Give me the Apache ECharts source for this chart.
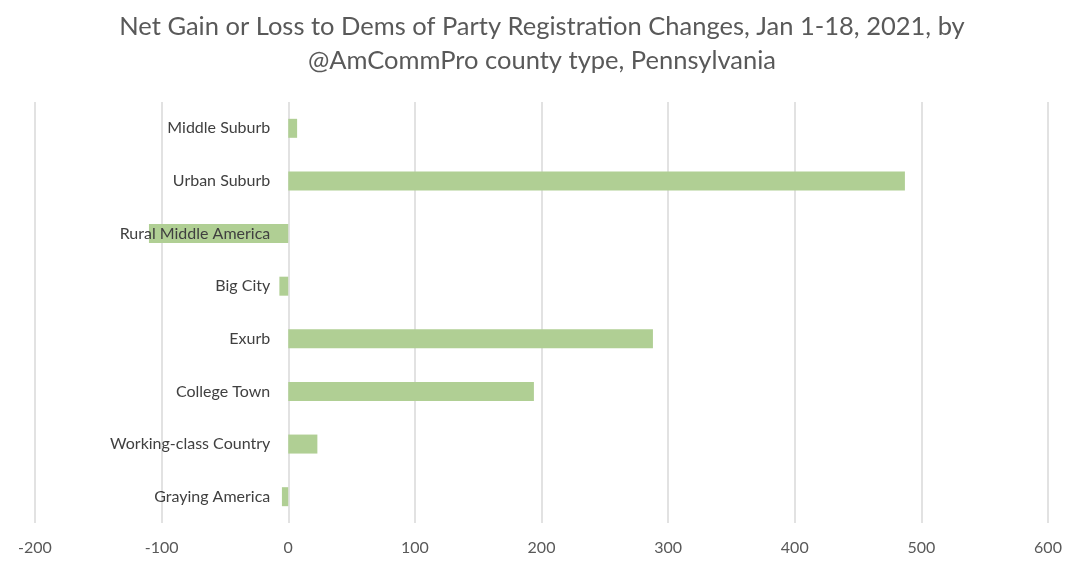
<!DOCTYPE html>
<html>
<head>
<meta charset="utf-8">
<script src="https://cdn.jsdelivr.net/npm/echarts@6/dist/echarts.min.js"></script>
<style>html,body{margin:0;padding:0;background:#fff}#c{width:1084px;height:572px}</style>
</head>
<body>
<div id="c"></div>
<script>
const categories = ["Graying America","Working-class Country","College Town","Exurb","Big City","Rural Middle America","Urban Suburb","Middle Suburb"];
const values = [-5, 23, 194, 288, -7, -110, 487, 7];
const xTicks = {min: -200, max: 600, interval: 100};
const titleText = "Net Gain or Loss to Dems of Party Registration Changes, Jan 1-18, 2021, by\n@AmCommPro county type, Pennsylvania";

const gridLeft = 35, gridRight = 36;
const chart = echarts.init(document.getElementById('c'));
const plotW = 1084 - gridLeft - gridRight;
const zeroOffset = plotW * (0 - xTicks.min) / (xTicks.max - xTicks.min);
chart.setOption({
  animation: false,
  textStyle: {fontFamily: 'Lato'},
  title: {
    text: titleText, left: 'center', top: 5,
    textStyle: {fontFamily: 'Lato', fontSize: 25.5, fontWeight: 'normal', color: '#595959', lineHeight: 34}
  },
  grid: {left: gridLeft, right: gridRight, top: 102, bottom: 49, containLabel: false, outerBoundsMode: 'none'},
  xAxis: {
    type: 'value', min: xTicks.min, max: xTicks.max, interval: xTicks.interval,
    axisLine: {show: false}, axisTick: {show: false},
    splitLine: {lineStyle: {color: '#d9d9d9', width: 1.5}},
    axisLabel: {color: '#595959', fontSize: 16, margin: 17, fontFamily: 'Lato'}
  },
  yAxis: {
    type: 'category', data: categories, z: 5, offset: -zeroOffset,
    axisLine: {show: false, onZero: false},
    axisTick: {show: false},
    axisLabel: {color: '#404040', fontSize: 16, margin: 18, fontFamily: 'Lato'}
  },
  series: [{
    type: 'bar', data: values, barWidth: 19,
    itemStyle: {color: '#b0cf94'}
  }]
});
</script>
</body>
</html>
